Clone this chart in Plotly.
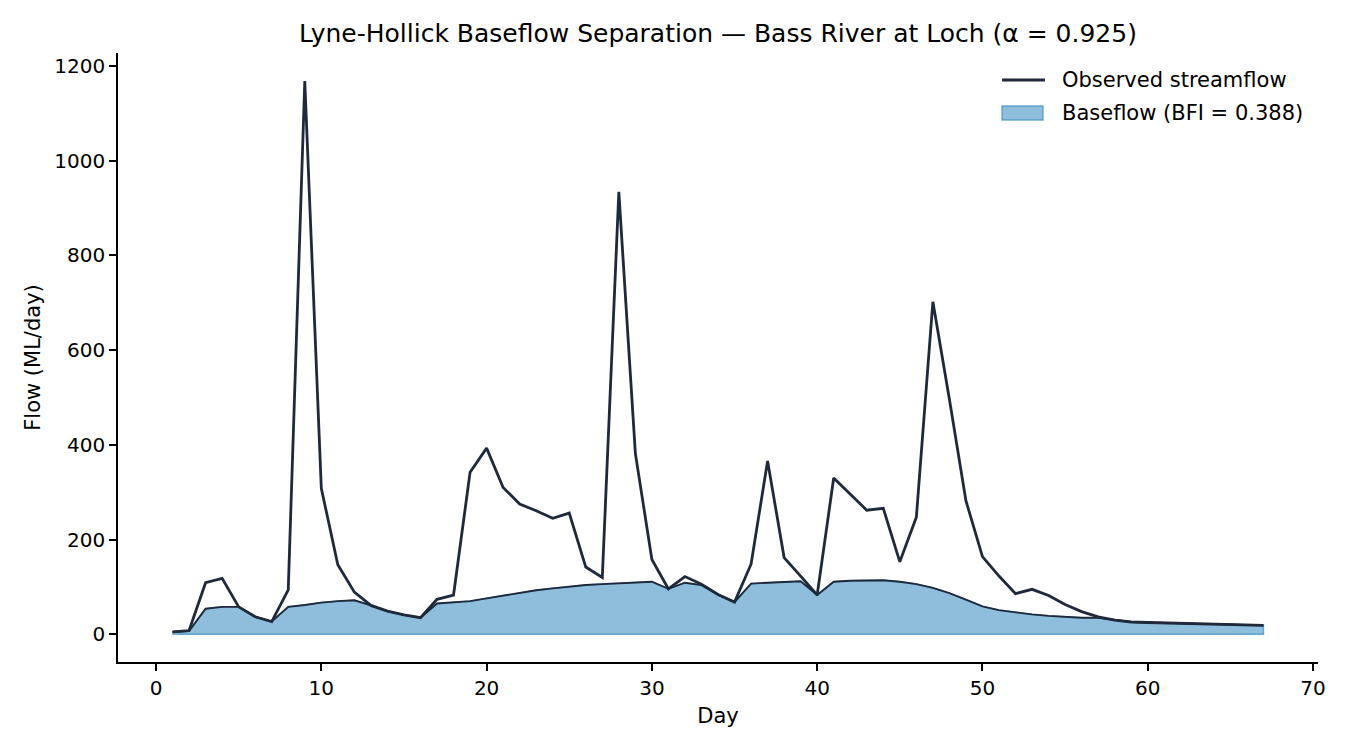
import plotly.graph_objects as go

days = list(range(1, 68))
streamflow = [5, 8, 109, 118, 58, 37, 27, 94, 1168, 308,
              147, 89, 61, 49, 41, 35, 74, 83, 342, 393,
              310, 275, 261, 245, 256, 142, 120, 934, 382, 158,
              96, 122, 106, 84, 68, 148, 366, 162, 123, 83,
              330, 296, 262, 266, 153, 247, 702, 496, 282, 164,
              123, 86, 95, 82, 63, 48, 37, 30, 26, 25,
              24, 23, 22, 21, 20, 19, 19]
baseflow = [5, 7, 54, 58, 58, 37, 27, 58, 62, 67,
            70, 72, 61, 49, 41, 35, 65, 67, 70, 76,
            82, 88, 93, 97, 101, 104, 106, 108, 110, 111,
            96, 109, 104, 84, 68, 107, 109, 111, 112, 83,
            111, 113, 114, 114, 111, 106, 98, 87, 73, 59,
            51, 46, 42, 39, 37, 35, 35, 30, 26, 25,
            24, 23, 22, 21, 20, 19, 19]
alpha = 0.925
bfi = sum(baseflow) / sum(streamflow)

NAVY = "#1e293b"
FILL = "rgba(67,147,195,0.6)"
EDGE = "rgba(67,147,195,0.75)"
FONT = "DejaVu Sans"
FS = 21
TICK_FS = 20

W, H = 1342, 742  # page body adds an 8px margin

fig = go.Figure()

# Baseflow area (closed polygon so the bottom edge is outlined too)
poly_x = days + days[::-1]
poly_y = baseflow + [0] * len(days)
fig.add_trace(go.Scatter(
    x=poly_x, y=poly_y, fill="toself", mode="lines",
    fillcolor=FILL, line=dict(color=EDGE, width=1.5),
    name=f"Baseflow (BFI = {bfi:.3f})", hoverinfo="skip",
))
# Baseflow top line (dark)
fig.add_trace(go.Scatter(
    x=days, y=baseflow, mode="lines",
    line=dict(color=NAVY, width=1.9), name="Baseflow line",
))
# Observed streamflow
fig.add_trace(go.Scatter(
    x=days, y=streamflow, mode="lines",
    line=dict(color=NAVY, width=2.8), name="Observed streamflow",
))

axis_common = dict(
    showline=True, linecolor="black", linewidth=1.6,
    ticks="outside", ticklen=7, tickwidth=1.6, tickcolor="black",
    showgrid=False, zeroline=False, mirror=False, automargin=False,
    tickfont=dict(family=FONT, size=TICK_FS, color="black"),
)

# Legend drawn in paper coordinates (matplotlib-style handles)
legend_line = dict(x0=0.7367, x1=0.7725, y=0.9557)
legend_patch = dict(x0=0.7367, x1=0.7708, y0=0.890, y1=0.913)
legend_text_x = 0.785

shapes = [
    dict(type="line", xref="paper", yref="paper",
         x0=legend_line["x0"], x1=legend_line["x1"],
         y0=legend_line["y"], y1=legend_line["y"],
         line=dict(color=NAVY, width=2.8)),
    dict(type="rect", xref="paper", yref="paper",
         x0=legend_patch["x0"], x1=legend_patch["x1"],
         y0=legend_patch["y0"], y1=legend_patch["y1"],
         fillcolor=FILL, line=dict(color=EDGE, width=1.5)),
]
annotations = [
    dict(text="Observed streamflow", xref="paper", yref="paper",
         x=legend_text_x, y=legend_line["y"], xanchor="left", yanchor="middle",
         showarrow=False, font=dict(family=FONT, size=FS, color="black")),
    dict(text=f"Baseflow (BFI = {bfi:.3f})", xref="paper", yref="paper",
         x=legend_text_x, y=(legend_patch["y0"] + legend_patch["y1"]) / 2,
         xanchor="left", yanchor="middle",
         showarrow=False, font=dict(family=FONT, size=FS, color="black")),
]

fig.update_layout(
    width=W, height=H,
    paper_bgcolor="white", plot_bgcolor="white",
    margin=dict(l=110, r=32, t=45, b=88, autoexpand=False),
    font=dict(family=FONT, size=FS, color="black"),
    title=dict(
        text=f"Lyne-Hollick Baseflow Separation — Bass River at Loch (α = {alpha})",
        x=0.5, xref="paper", xanchor="center",
        y=1 - 25 / H, yref="container", yanchor="middle",
        font=dict(family=FONT, size=25, color="black"),
    ),
    xaxis=dict(
        range=[-2.3, 70.3], tick0=0, dtick=10,
        title=dict(text="Day", font=dict(family=FONT, size=FS), standoff=10),
        **axis_common,
    ),
    yaxis=dict(
        range=[-58.4, 1227], tick0=0, dtick=200,
        title=dict(text="Flow (ML/day)", font=dict(family=FONT, size=FS), standoff=8),
        **axis_common,
    ),
    shapes=shapes,
    annotations=annotations,
    showlegend=False,
)

fig.write_html("out.html")
